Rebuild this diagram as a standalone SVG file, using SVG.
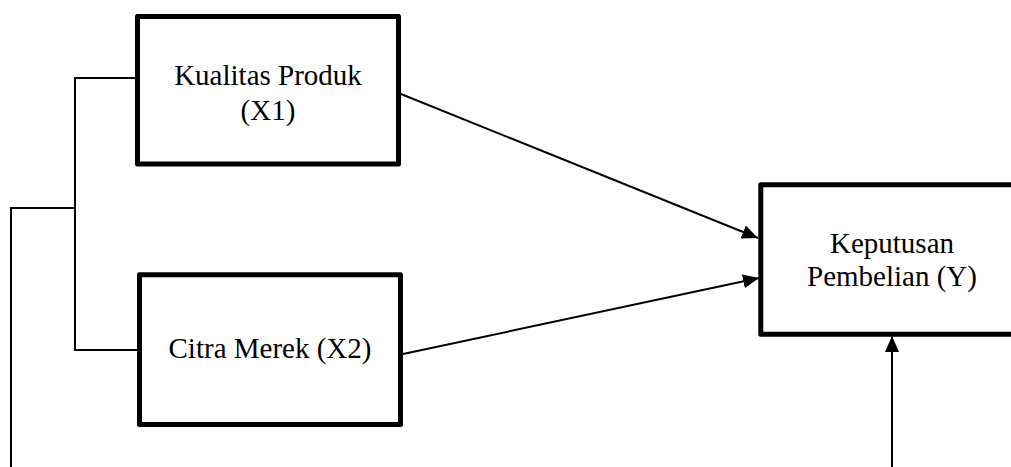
<svg xmlns="http://www.w3.org/2000/svg" width="1011" height="467" viewBox="0 0 1011 467">
  <style>
    .box { fill: #ffffff; stroke: #000000; stroke-width: 5; stroke-linejoin: round; }
    .label { font-family: "Liberation Serif", "Times New Roman", serif; font-size: 29px; fill: #000000; text-anchor: middle; }
    .wire { fill: none; stroke: #000000; stroke-width: 2; }
  </style>
  <defs>
    <marker id="arrow" markerUnits="userSpaceOnUse" markerWidth="16" markerHeight="14" refX="16" refY="7" orient="auto">
      <path d="M0,0 L16,7 L0,14 Z" fill="#000000"/>
    </marker>
  </defs>
  <rect width="1011" height="467" fill="#ffffff"/>

  <!-- bracket on the left, two causal arrows, and the arrow rising from below -->
  <g id="connectors">
    <path class="wire" d="M135,78 H75 V350 H137"/>
    <path class="wire" d="M75,208 H11 V467"/>
    <line class="wire" x1="401" y1="94" x2="758" y2="238" marker-end="url(#arrow)"/>
    <line class="wire" x1="403" y1="354" x2="759" y2="278" marker-end="url(#arrow)"/>
    <line class="wire" x1="892" y1="467" x2="892" y2="336" marker-end="url(#arrow)"/>
  </g>

  <g id="node-x1">
    <rect class="box" x="137.5" y="16.5" width="261" height="147.5"/>
    <text class="label" x="268" y="85">Kualitas Produk</text>
    <text class="label" x="268" y="120">(X1)</text>
  </g>

  <g id="node-x2">
    <rect class="box" x="139.5" y="274.8" width="261" height="149.7"/>
    <text class="label" x="270" y="358">Citra Merek (X2)</text>
  </g>

  <!-- right side of this box runs past the canvas edge -->
  <g id="node-y">
    <rect class="box" x="760.8" y="184.8" width="270" height="149.4"/>
    <text class="label" x="892" y="253">Keputusan</text>
    <text class="label" x="892" y="286">Pembelian (Y)</text>
  </g>
</svg>
